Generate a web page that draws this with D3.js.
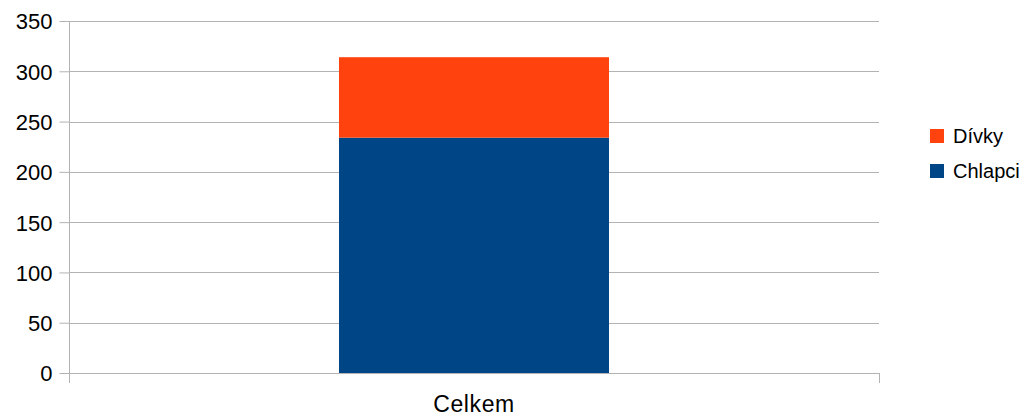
<!DOCTYPE html>
<html><head><meta charset="utf-8">
<script src="https://cdn.jsdelivr.net/npm/d3@7"></script>
<style>body{margin:0;background:#fff}svg{display:block}text{font-family:"Liberation Sans",Arial,sans-serif}</style>
</head><body>
<svg id="c" width="1031" height="416"></svg>
<script>
const categories = ["Celkem"];
const seriesNames = ["Chlapci", "Dívky"];
const chlapci = [234];
const divky = [80];
const yTicks = [0, 50, 100, 150, 200, 250, 300, 350];
const colors = ["#004586", "#ff420e"];

const svg = d3.select("#c");
const L = 69, R = 879, T = 21, B = 373;
const x = d3.scaleBand().domain(categories).range([L, R]).paddingInner(0.5).paddingOuter(0.5);
const y = d3.scaleLinear().domain([0, 350]).range([B, T]);
const grid = "#b3b3b3";
const FONT = '"Liberation Sans",Arial,sans-serif';

// gridlines
svg.append("g").selectAll("line").data(yTicks).join("line")
  .attr("x1", L).attr("x2", R)
  .attr("y1", d => Math.round(y(d)) + 0.5).attr("y2", d => Math.round(y(d)) + 0.5)
  .attr("stroke", grid).attr("stroke-width", 1);

// stacked bars
const rows = categories.map((c, i) => ({cat: c, Chlapci: chlapci[i], "Dívky": divky[i]}));
const stack = d3.stack().keys(seriesNames)(rows);
svg.append("g").selectAll("g").data(stack).join("g")
  .attr("fill", (d, i) => colors[i])
  .selectAll("rect").data(d => d).join("rect")
  .attr("x", d => x(d.data.cat))
  .attr("width", x.bandwidth())
  .attr("y", d => y(d[1]))
  .attr("height", d => y(d[0]) - y(d[1]));

// y axis
const ya = d3.axisLeft(y).tickValues(yTicks).tickSize(10).tickPadding(7);
const gy = svg.append("g").attr("transform", `translate(${L + 0.5},0)`).call(ya);
gy.select(".domain").attr("stroke", grid).attr("d", `M0,${T}V${B + 10}`);
gy.selectAll(".tick line").attr("stroke", grid);
gy.selectAll(".tick text").attr("font-size", 22).attr("fill", "#000")
  .attr("font-family", FONT).attr("dy", "0.36em");

// x axis
const xa = d3.axisBottom(x).tickSize(0).tickPadding(22);
const gx = svg.append("g").attr("transform", `translate(0,${B + 0.5})`).call(xa);
gx.select(".domain").attr("stroke", grid).attr("d", `M${L},0H${R}`);
gx.selectAll(".tick text").attr("font-size", 23).attr("letter-spacing", 0.6).attr("fill", "#000")
  .attr("font-family", FONT);
// category boundary ticks
svg.append("g").selectAll("line").data([L, R]).join("line")
  .attr("x1", d => d + 0.5).attr("x2", d => d + 0.5)
  .attr("y1", B).attr("y2", B + 10).attr("stroke", grid);

// legend (Dívky on top)
const legendItems = [{name: "Dívky", color: colors[1]}, {name: "Chlapci", color: colors[0]}];
const lg = svg.append("g").selectAll("g").data(legendItems).join("g")
  .attr("transform", (d, i) => `translate(930,${129 + i * 35})`);
lg.append("rect").attr("width", 14).attr("height", 14).attr("fill", d => d.color);
lg.append("text").attr("x", 23).attr("y", 14).attr("font-size", 20).attr("fill", "#000")
  .attr("font-family", FONT).text(d => d.name);
</script>
</body></html>
